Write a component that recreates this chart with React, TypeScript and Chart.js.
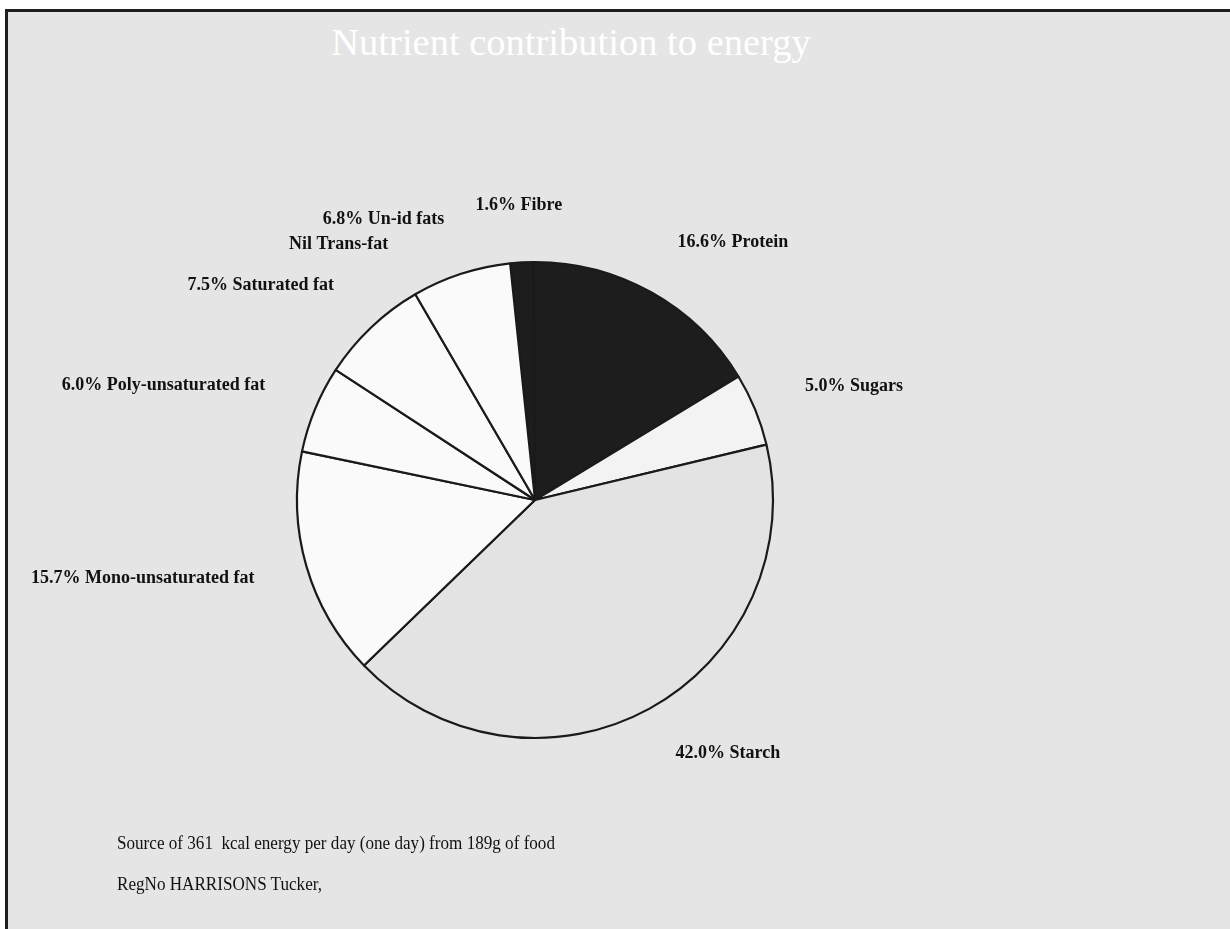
import React, { useEffect, useRef } from "react";
import { Chart, registerables } from "chart.js";

Chart.register(...registerables);

const titleText = "Nutrient contribution to energy";
const categories = [
  "Fibre",
  "Protein",
  "Sugars",
  "Starch",
  "Mono-unsaturated fat",
  "Poly-unsaturated fat",
  "Saturated fat",
  "Trans-fat",
  "Un-id fats",
];
const values = [1.6, 16.6, 5.0, 42.0, 15.7, 6.0, 7.5, 0, 6.8];
const sliceLabels = [
  "1.6% Fibre",
  "16.6% Protein",
  "5.0% Sugars",
  "42.0% Starch",
  "15.7% Mono-unsaturated fat",
  "6.0% Poly-unsaturated fat",
  "7.5% Saturated fat",
  "Nil Trans-fat",
  "6.8% Un-id fats",
];
const sliceColors = [
  "#1d1d1d",
  "#1d1d1d",
  "#f3f3f3",
  "#e3e3e3",
  "#fafafa",
  "#fafafa",
  "#fafafa",
  "#fafafa",
  "#fafafa",
];
const footnotes = [
  "Source of 361  kcal energy per day (one day) from 189g of food",
  "RegNo HARRISONS Tucker,",
];

const labelPlugin = {
  id: "sliceLabels",
  afterDatasetsDraw(chart: any) {
    const ctx = chart.ctx;
    const meta = chart.getDatasetMeta(0);
    meta.data.forEach((arc: any, i: number) => {
      const p = arc.getProps(["x", "y", "startAngle", "endAngle", "outerRadius"], true);
      const mid = (p.startAngle + p.endAngle) / 2;
      const r = p.outerRadius + 54;
      const px = p.x + Math.cos(mid) * r;
      const py = p.y + Math.sin(mid) * r - 3;
      const c = Math.cos(mid);
      const align = c > 0.1 ? "left" : c < -0.1 ? "right" : "center";
      ctx.save();
      ctx.font = 'bold 18px "Liberation Serif"';
      ctx.fillStyle = "#111111";
      ctx.textAlign = align;
      ctx.textBaseline = "middle";
      ctx.fillText(sliceLabels[i], px, py);
      ctx.restore();
    });
  },
};

export default function App() {
  const canvasRef = useRef<HTMLCanvasElement | null>(null);

  useEffect(() => {
    if (!canvasRef.current) return;
    const chart = new Chart(canvasRef.current, {
      type: "pie",
      data: {
        labels: categories,
        datasets: [
          {
            data: values,
            backgroundColor: sliceColors,
            borderColor: "#1a1a1a",
            borderWidth: 2.2,
          },
        ],
      },
      options: {
        responsive: false,
        animation: false,
        devicePixelRatio: 1,
        rotation: -6,
        radius: 238,
        layout: { padding: { left: 297, right: 457, top: 262, bottom: 191 } },
        plugins: {
          legend: { display: false },
          tooltip: { enabled: false },
          title: { display: false },
        },
      },
      plugins: [labelPlugin],
    });
    return () => chart.destroy();
  }, []);

  return (
    <div style={{ position: "absolute", left: 0, top: 0, width: 1230, height: 929, background: "#ffffff", overflow: "hidden" }}>
      <div
        style={{
          position: "absolute",
          left: 5,
          top: 9,
          width: 1225,
          height: 920,
          background: "#e5e5e5",
          borderTop: "3px solid #1e1e1e",
          borderLeft: "3px solid #1e1e1e",
          boxSizing: "border-box",
        }}
      />
      <div
        style={{
          position: "absolute",
          left: 0,
          top: 21,
          width: 1142,
          textAlign: "center",
          fontFamily: '"Liberation Serif", serif',
          fontSize: 38.5,
          lineHeight: "42px",
          color: "#ffffff",
          whiteSpace: "pre",
        }}
      >
        {titleText}
      </div>
      <canvas
        ref={canvasRef}
        width={1230}
        height={929}
        style={{ position: "absolute", left: 0, top: 0, width: 1230, height: 929 }}
      />
      {footnotes.map((t, i) => (
        <div
          key={i}
          style={{
            position: "absolute",
            left: 117,
            top: 832 + i * 41,
            fontFamily: '"Liberation Serif", serif',
            fontSize: 19,
            lineHeight: "22px",
            color: "#111111",
            whiteSpace: "pre",
            transform: "scaleX(0.9)",
            transformOrigin: "left center",
          }}
        >
          {t}
        </div>
      ))}
    </div>
  );
}
